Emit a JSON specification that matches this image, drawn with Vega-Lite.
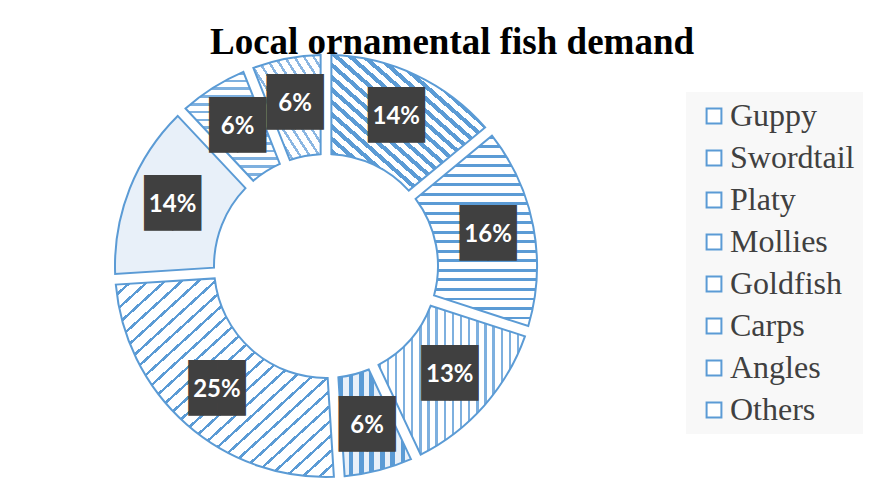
{
"$schema": "https://vega.github.io/schema/vega-lite/v6.json",
"width": 632,
"height": 448,
"autosize": {"type": "none"},
"padding": {"left": 10, "top": 42, "right": 244, "bottom": 0},
"background": "#ffffff",
"title": {"text": "Local ornamental fish demand", "font": "Liberation Serif", "fontSize": 37, "fontWeight": "bold", "color": "#000000", "anchor": "middle", "dx": 126, "dy": 36, "offset": -13, "baseline": "alphabetic"},
"data": {"values": [
{"fish": "Guppy", "share": 0.14},
{"fish": "Swordtail", "share": 0.16},
{"fish": "Platy", "share": 0.13},
{"fish": "Mollies", "share": 0.06},
{"fish": "Goldfish", "share": 0.25},
{"fish": "Carps", "share": 0.14},
{"fish": "Angles", "share": 0.06},
{"fish": "Others", "share": 0.06}
]},
"transform": [{"window": [{"op": "row_number", "as": "idx"}]}],
"encoding": {
"theta": {"field": "share", "type": "quantitative", "stack": true},
"order": {"field": "idx", "type": "quantitative", "sort": "ascending"}
},
"layer": [
{"mark": {"type": "arc", "innerRadius": 112, "outerRadius": 211, "padAngle": 0.045, "strokeWidth": 2},
"encoding": {
"stroke": {"field": "fish", "type": "nominal", "sort": null, "scale": {"range": ["#5B9BD5"]},
"legend": {"title": null, "orient": "none", "legendX": 676, "legendY": 50, "symbolType": "square", "symbolSize": 220, "symbolStrokeWidth": 2, "symbolFillColor": "#b7d2ee", "labelFont": "Liberation Serif", "labelFontSize": 32, "labelColor": "#404040", "rowPadding": 10, "fillColor": "#f8f8f8", "padding": 8, "symbolOffset": 4, "labelOffset": 0, "labelLimit": 300,
"encode": {"symbols": {"fill": {"value": "#b7d2ee"}, "fillOpacity": {"value": 1}, "opacity": {"value": 1}}}}},
"fill": {"condition": [
{"test": "datum.fish === 'Guppy'", "value": {"gradient": "linear", "x1": 0, "y1": 1, "x2": 1, "y2": 0, "stops": [
{"offset": 0, "color": "#5B9BD5"}, {"offset": 0.0205, "color": "#5B9BD5"}, {"offset": 0.0205, "color": "#ffffff"}, {"offset": 0.0455, "color": "#ffffff"},
{"offset": 0.0455, "color": "#5B9BD5"}, {"offset": 0.066, "color": "#5B9BD5"}, {"offset": 0.066, "color": "#ffffff"}, {"offset": 0.0909, "color": "#ffffff"},
{"offset": 0.0909, "color": "#5B9BD5"}, {"offset": 0.1114, "color": "#5B9BD5"}, {"offset": 0.1114, "color": "#ffffff"}, {"offset": 0.1364, "color": "#ffffff"},
{"offset": 0.1364, "color": "#5B9BD5"}, {"offset": 0.1569, "color": "#5B9BD5"}, {"offset": 0.1569, "color": "#ffffff"}, {"offset": 0.1818, "color": "#ffffff"},
{"offset": 0.1818, "color": "#5B9BD5"}, {"offset": 0.2023, "color": "#5B9BD5"}, {"offset": 0.2023, "color": "#ffffff"}, {"offset": 0.2273, "color": "#ffffff"},
{"offset": 0.2273, "color": "#5B9BD5"}, {"offset": 0.2478, "color": "#5B9BD5"}, {"offset": 0.2478, "color": "#ffffff"}, {"offset": 0.2727, "color": "#ffffff"},
{"offset": 0.2727, "color": "#5B9BD5"}, {"offset": 0.2932, "color": "#5B9BD5"}, {"offset": 0.2932, "color": "#ffffff"}, {"offset": 0.3182, "color": "#ffffff"},
{"offset": 0.3182, "color": "#5B9BD5"}, {"offset": 0.3387, "color": "#5B9BD5"}, {"offset": 0.3387, "color": "#ffffff"}, {"offset": 0.3636, "color": "#ffffff"},
{"offset": 0.3636, "color": "#5B9BD5"}, {"offset": 0.3841, "color": "#5B9BD5"}, {"offset": 0.3841, "color": "#ffffff"}, {"offset": 0.4091, "color": "#ffffff"},
{"offset": 0.4091, "color": "#5B9BD5"}, {"offset": 0.4296, "color": "#5B9BD5"}, {"offset": 0.4296, "color": "#ffffff"}, {"offset": 0.4545, "color": "#ffffff"},
{"offset": 0.4545, "color": "#5B9BD5"}, {"offset": 0.475, "color": "#5B9BD5"}, {"offset": 0.475, "color": "#ffffff"}, {"offset": 0.5, "color": "#ffffff"},
{"offset": 0.5, "color": "#5B9BD5"}, {"offset": 0.5205, "color": "#5B9BD5"}, {"offset": 0.5205, "color": "#ffffff"}, {"offset": 0.5455, "color": "#ffffff"},
{"offset": 0.5455, "color": "#5B9BD5"}, {"offset": 0.566, "color": "#5B9BD5"}, {"offset": 0.566, "color": "#ffffff"}, {"offset": 0.5909, "color": "#ffffff"},
{"offset": 0.5909, "color": "#5B9BD5"}, {"offset": 0.6114, "color": "#5B9BD5"}, {"offset": 0.6114, "color": "#ffffff"}, {"offset": 0.6364, "color": "#ffffff"},
{"offset": 0.6364, "color": "#5B9BD5"}, {"offset": 0.6569, "color": "#5B9BD5"}, {"offset": 0.6569, "color": "#ffffff"}, {"offset": 0.6818, "color": "#ffffff"},
{"offset": 0.6818, "color": "#5B9BD5"}, {"offset": 0.7023, "color": "#5B9BD5"}, {"offset": 0.7023, "color": "#ffffff"}, {"offset": 0.7273, "color": "#ffffff"},
{"offset": 0.7273, "color": "#5B9BD5"}, {"offset": 0.7478, "color": "#5B9BD5"}, {"offset": 0.7478, "color": "#ffffff"}, {"offset": 0.7727, "color": "#ffffff"},
{"offset": 0.7727, "color": "#5B9BD5"}, {"offset": 0.7932, "color": "#5B9BD5"}, {"offset": 0.7932, "color": "#ffffff"}, {"offset": 0.8182, "color": "#ffffff"},
{"offset": 0.8182, "color": "#5B9BD5"}, {"offset": 0.8387, "color": "#5B9BD5"}, {"offset": 0.8387, "color": "#ffffff"}, {"offset": 0.8636, "color": "#ffffff"},
{"offset": 0.8636, "color": "#5B9BD5"}, {"offset": 0.8841, "color": "#5B9BD5"}, {"offset": 0.8841, "color": "#ffffff"}, {"offset": 0.9091, "color": "#ffffff"},
{"offset": 0.9091, "color": "#5B9BD5"}, {"offset": 0.9296, "color": "#5B9BD5"}, {"offset": 0.9296, "color": "#ffffff"}, {"offset": 0.9545, "color": "#ffffff"},
{"offset": 0.9545, "color": "#5B9BD5"}, {"offset": 0.975, "color": "#5B9BD5"}, {"offset": 0.975, "color": "#ffffff"}, {"offset": 1, "color": "#ffffff"}
]}},
{"test": "datum.fish === 'Swordtail'", "value": {"gradient": "linear", "x1": 0, "y1": 0, "x2": 0, "y2": 1, "stops": [
{"offset": 0, "color": "#5B9BD5"}, {"offset": 0.015, "color": "#5B9BD5"}, {"offset": 0.015, "color": "#ffffff"}, {"offset": 0.05, "color": "#ffffff"},
{"offset": 0.05, "color": "#5B9BD5"}, {"offset": 0.065, "color": "#5B9BD5"}, {"offset": 0.065, "color": "#ffffff"}, {"offset": 0.1, "color": "#ffffff"},
{"offset": 0.1, "color": "#5B9BD5"}, {"offset": 0.115, "color": "#5B9BD5"}, {"offset": 0.115, "color": "#ffffff"}, {"offset": 0.15, "color": "#ffffff"},
{"offset": 0.15, "color": "#5B9BD5"}, {"offset": 0.165, "color": "#5B9BD5"}, {"offset": 0.165, "color": "#ffffff"}, {"offset": 0.2, "color": "#ffffff"},
{"offset": 0.2, "color": "#5B9BD5"}, {"offset": 0.215, "color": "#5B9BD5"}, {"offset": 0.215, "color": "#ffffff"}, {"offset": 0.25, "color": "#ffffff"},
{"offset": 0.25, "color": "#5B9BD5"}, {"offset": 0.265, "color": "#5B9BD5"}, {"offset": 0.265, "color": "#ffffff"}, {"offset": 0.3, "color": "#ffffff"},
{"offset": 0.3, "color": "#5B9BD5"}, {"offset": 0.315, "color": "#5B9BD5"}, {"offset": 0.315, "color": "#ffffff"}, {"offset": 0.35, "color": "#ffffff"},
{"offset": 0.35, "color": "#5B9BD5"}, {"offset": 0.365, "color": "#5B9BD5"}, {"offset": 0.365, "color": "#ffffff"}, {"offset": 0.4, "color": "#ffffff"},
{"offset": 0.4, "color": "#5B9BD5"}, {"offset": 0.415, "color": "#5B9BD5"}, {"offset": 0.415, "color": "#ffffff"}, {"offset": 0.45, "color": "#ffffff"},
{"offset": 0.45, "color": "#5B9BD5"}, {"offset": 0.465, "color": "#5B9BD5"}, {"offset": 0.465, "color": "#ffffff"}, {"offset": 0.5, "color": "#ffffff"},
{"offset": 0.5, "color": "#5B9BD5"}, {"offset": 0.515, "color": "#5B9BD5"}, {"offset": 0.515, "color": "#ffffff"}, {"offset": 0.55, "color": "#ffffff"},
{"offset": 0.55, "color": "#5B9BD5"}, {"offset": 0.565, "color": "#5B9BD5"}, {"offset": 0.565, "color": "#ffffff"}, {"offset": 0.6, "color": "#ffffff"},
{"offset": 0.6, "color": "#5B9BD5"}, {"offset": 0.615, "color": "#5B9BD5"}, {"offset": 0.615, "color": "#ffffff"}, {"offset": 0.65, "color": "#ffffff"},
{"offset": 0.65, "color": "#5B9BD5"}, {"offset": 0.665, "color": "#5B9BD5"}, {"offset": 0.665, "color": "#ffffff"}, {"offset": 0.7, "color": "#ffffff"},
{"offset": 0.7, "color": "#5B9BD5"}, {"offset": 0.715, "color": "#5B9BD5"}, {"offset": 0.715, "color": "#ffffff"}, {"offset": 0.75, "color": "#ffffff"},
{"offset": 0.75, "color": "#5B9BD5"}, {"offset": 0.765, "color": "#5B9BD5"}, {"offset": 0.765, "color": "#ffffff"}, {"offset": 0.8, "color": "#ffffff"},
{"offset": 0.8, "color": "#5B9BD5"}, {"offset": 0.815, "color": "#5B9BD5"}, {"offset": 0.815, "color": "#ffffff"}, {"offset": 0.85, "color": "#ffffff"},
{"offset": 0.85, "color": "#5B9BD5"}, {"offset": 0.865, "color": "#5B9BD5"}, {"offset": 0.865, "color": "#ffffff"}, {"offset": 0.9, "color": "#ffffff"},
{"offset": 0.9, "color": "#5B9BD5"}, {"offset": 0.915, "color": "#5B9BD5"}, {"offset": 0.915, "color": "#ffffff"}, {"offset": 0.95, "color": "#ffffff"},
{"offset": 0.95, "color": "#5B9BD5"}, {"offset": 0.965, "color": "#5B9BD5"}, {"offset": 0.965, "color": "#ffffff"}, {"offset": 1, "color": "#ffffff"}
]}},
{"test": "datum.fish === 'Platy'", "value": {"gradient": "linear", "x1": 0, "y1": 0, "x2": 1, "y2": 0, "stops": [
{"offset": 0, "color": "#7eb0df"}, {"offset": 0.0167, "color": "#7eb0df"}, {"offset": 0.0167, "color": "#ffffff"}, {"offset": 0.0556, "color": "#ffffff"},
{"offset": 0.0556, "color": "#7eb0df"}, {"offset": 0.0723, "color": "#7eb0df"}, {"offset": 0.0723, "color": "#ffffff"}, {"offset": 0.1111, "color": "#ffffff"},
{"offset": 0.1111, "color": "#7eb0df"}, {"offset": 0.1278, "color": "#7eb0df"}, {"offset": 0.1278, "color": "#ffffff"}, {"offset": 0.1667, "color": "#ffffff"},
{"offset": 0.1667, "color": "#7eb0df"}, {"offset": 0.1834, "color": "#7eb0df"}, {"offset": 0.1834, "color": "#ffffff"}, {"offset": 0.2222, "color": "#ffffff"},
{"offset": 0.2222, "color": "#7eb0df"}, {"offset": 0.2389, "color": "#7eb0df"}, {"offset": 0.2389, "color": "#ffffff"}, {"offset": 0.2778, "color": "#ffffff"},
{"offset": 0.2778, "color": "#7eb0df"}, {"offset": 0.2945, "color": "#7eb0df"}, {"offset": 0.2945, "color": "#ffffff"}, {"offset": 0.3333, "color": "#ffffff"},
{"offset": 0.3333, "color": "#7eb0df"}, {"offset": 0.35, "color": "#7eb0df"}, {"offset": 0.35, "color": "#ffffff"}, {"offset": 0.3889, "color": "#ffffff"},
{"offset": 0.3889, "color": "#7eb0df"}, {"offset": 0.4056, "color": "#7eb0df"}, {"offset": 0.4056, "color": "#ffffff"}, {"offset": 0.4444, "color": "#ffffff"},
{"offset": 0.4444, "color": "#7eb0df"}, {"offset": 0.4611, "color": "#7eb0df"}, {"offset": 0.4611, "color": "#ffffff"}, {"offset": 0.5, "color": "#ffffff"},
{"offset": 0.5, "color": "#7eb0df"}, {"offset": 0.5167, "color": "#7eb0df"}, {"offset": 0.5167, "color": "#ffffff"}, {"offset": 0.5556, "color": "#ffffff"},
{"offset": 0.5556, "color": "#7eb0df"}, {"offset": 0.5723, "color": "#7eb0df"}, {"offset": 0.5723, "color": "#ffffff"}, {"offset": 0.6111, "color": "#ffffff"},
{"offset": 0.6111, "color": "#7eb0df"}, {"offset": 0.6278, "color": "#7eb0df"}, {"offset": 0.6278, "color": "#ffffff"}, {"offset": 0.6667, "color": "#ffffff"},
{"offset": 0.6667, "color": "#7eb0df"}, {"offset": 0.6834, "color": "#7eb0df"}, {"offset": 0.6834, "color": "#ffffff"}, {"offset": 0.7222, "color": "#ffffff"},
{"offset": 0.7222, "color": "#7eb0df"}, {"offset": 0.7389, "color": "#7eb0df"}, {"offset": 0.7389, "color": "#ffffff"}, {"offset": 0.7778, "color": "#ffffff"},
{"offset": 0.7778, "color": "#7eb0df"}, {"offset": 0.7945, "color": "#7eb0df"}, {"offset": 0.7945, "color": "#ffffff"}, {"offset": 0.8333, "color": "#ffffff"},
{"offset": 0.8333, "color": "#7eb0df"}, {"offset": 0.85, "color": "#7eb0df"}, {"offset": 0.85, "color": "#ffffff"}, {"offset": 0.8889, "color": "#ffffff"},
{"offset": 0.8889, "color": "#7eb0df"}, {"offset": 0.9056, "color": "#7eb0df"}, {"offset": 0.9056, "color": "#ffffff"}, {"offset": 0.9444, "color": "#ffffff"},
{"offset": 0.9444, "color": "#7eb0df"}, {"offset": 0.9611, "color": "#7eb0df"}, {"offset": 0.9611, "color": "#ffffff"}, {"offset": 1, "color": "#ffffff"}
]}},
{"test": "datum.fish === 'Mollies'", "value": {"gradient": "linear", "x1": 0, "y1": 0, "x2": 1, "y2": 0, "stops": [
{"offset": 0, "color": "#5B9BD5"}, {"offset": 0.0643, "color": "#5B9BD5"}, {"offset": 0.0643, "color": "#e8f0f9"}, {"offset": 0.1429, "color": "#e8f0f9"},
{"offset": 0.1429, "color": "#5B9BD5"}, {"offset": 0.2072, "color": "#5B9BD5"}, {"offset": 0.2072, "color": "#e8f0f9"}, {"offset": 0.2857, "color": "#e8f0f9"},
{"offset": 0.2857, "color": "#5B9BD5"}, {"offset": 0.35, "color": "#5B9BD5"}, {"offset": 0.35, "color": "#e8f0f9"}, {"offset": 0.4286, "color": "#e8f0f9"},
{"offset": 0.4286, "color": "#5B9BD5"}, {"offset": 0.4929, "color": "#5B9BD5"}, {"offset": 0.4929, "color": "#e8f0f9"}, {"offset": 0.5714, "color": "#e8f0f9"},
{"offset": 0.5714, "color": "#5B9BD5"}, {"offset": 0.6357, "color": "#5B9BD5"}, {"offset": 0.6357, "color": "#e8f0f9"}, {"offset": 0.7143, "color": "#e8f0f9"},
{"offset": 0.7143, "color": "#5B9BD5"}, {"offset": 0.7786, "color": "#5B9BD5"}, {"offset": 0.7786, "color": "#e8f0f9"}, {"offset": 0.8571, "color": "#e8f0f9"},
{"offset": 0.8571, "color": "#5B9BD5"}, {"offset": 0.9214, "color": "#5B9BD5"}, {"offset": 0.9214, "color": "#e8f0f9"}, {"offset": 1, "color": "#e8f0f9"}
]}},
{"test": "datum.fish === 'Goldfish'", "value": {"gradient": "linear", "x1": 0, "y1": 0, "x2": 1, "y2": 1, "stops": [
{"offset": 0, "color": "#5B9BD5"}, {"offset": 0.0085, "color": "#5B9BD5"}, {"offset": 0.0085, "color": "#ffffff"}, {"offset": 0.0385, "color": "#ffffff"},
{"offset": 0.0385, "color": "#5B9BD5"}, {"offset": 0.047, "color": "#5B9BD5"}, {"offset": 0.047, "color": "#ffffff"}, {"offset": 0.0769, "color": "#ffffff"},
{"offset": 0.0769, "color": "#5B9BD5"}, {"offset": 0.0854, "color": "#5B9BD5"}, {"offset": 0.0854, "color": "#ffffff"}, {"offset": 0.1154, "color": "#ffffff"},
{"offset": 0.1154, "color": "#5B9BD5"}, {"offset": 0.1239, "color": "#5B9BD5"}, {"offset": 0.1239, "color": "#ffffff"}, {"offset": 0.1538, "color": "#ffffff"},
{"offset": 0.1538, "color": "#5B9BD5"}, {"offset": 0.1623, "color": "#5B9BD5"}, {"offset": 0.1623, "color": "#ffffff"}, {"offset": 0.1923, "color": "#ffffff"},
{"offset": 0.1923, "color": "#5B9BD5"}, {"offset": 0.2008, "color": "#5B9BD5"}, {"offset": 0.2008, "color": "#ffffff"}, {"offset": 0.2308, "color": "#ffffff"},
{"offset": 0.2308, "color": "#5B9BD5"}, {"offset": 0.2393, "color": "#5B9BD5"}, {"offset": 0.2393, "color": "#ffffff"}, {"offset": 0.2692, "color": "#ffffff"},
{"offset": 0.2692, "color": "#5B9BD5"}, {"offset": 0.2777, "color": "#5B9BD5"}, {"offset": 0.2777, "color": "#ffffff"}, {"offset": 0.3077, "color": "#ffffff"},
{"offset": 0.3077, "color": "#5B9BD5"}, {"offset": 0.3162, "color": "#5B9BD5"}, {"offset": 0.3162, "color": "#ffffff"}, {"offset": 0.3462, "color": "#ffffff"},
{"offset": 0.3462, "color": "#5B9BD5"}, {"offset": 0.3547, "color": "#5B9BD5"}, {"offset": 0.3547, "color": "#ffffff"}, {"offset": 0.3846, "color": "#ffffff"},
{"offset": 0.3846, "color": "#5B9BD5"}, {"offset": 0.3931, "color": "#5B9BD5"}, {"offset": 0.3931, "color": "#ffffff"}, {"offset": 0.4231, "color": "#ffffff"},
{"offset": 0.4231, "color": "#5B9BD5"}, {"offset": 0.4316, "color": "#5B9BD5"}, {"offset": 0.4316, "color": "#ffffff"}, {"offset": 0.4615, "color": "#ffffff"},
{"offset": 0.4615, "color": "#5B9BD5"}, {"offset": 0.47, "color": "#5B9BD5"}, {"offset": 0.47, "color": "#ffffff"}, {"offset": 0.5, "color": "#ffffff"},
{"offset": 0.5, "color": "#5B9BD5"}, {"offset": 0.5085, "color": "#5B9BD5"}, {"offset": 0.5085, "color": "#ffffff"}, {"offset": 0.5385, "color": "#ffffff"},
{"offset": 0.5385, "color": "#5B9BD5"}, {"offset": 0.547, "color": "#5B9BD5"}, {"offset": 0.547, "color": "#ffffff"}, {"offset": 0.5769, "color": "#ffffff"},
{"offset": 0.5769, "color": "#5B9BD5"}, {"offset": 0.5854, "color": "#5B9BD5"}, {"offset": 0.5854, "color": "#ffffff"}, {"offset": 0.6154, "color": "#ffffff"},
{"offset": 0.6154, "color": "#5B9BD5"}, {"offset": 0.6239, "color": "#5B9BD5"}, {"offset": 0.6239, "color": "#ffffff"}, {"offset": 0.6538, "color": "#ffffff"},
{"offset": 0.6538, "color": "#5B9BD5"}, {"offset": 0.6623, "color": "#5B9BD5"}, {"offset": 0.6623, "color": "#ffffff"}, {"offset": 0.6923, "color": "#ffffff"},
{"offset": 0.6923, "color": "#5B9BD5"}, {"offset": 0.7008, "color": "#5B9BD5"}, {"offset": 0.7008, "color": "#ffffff"}, {"offset": 0.7308, "color": "#ffffff"},
{"offset": 0.7308, "color": "#5B9BD5"}, {"offset": 0.7393, "color": "#5B9BD5"}, {"offset": 0.7393, "color": "#ffffff"}, {"offset": 0.7692, "color": "#ffffff"},
{"offset": 0.7692, "color": "#5B9BD5"}, {"offset": 0.7777, "color": "#5B9BD5"}, {"offset": 0.7777, "color": "#ffffff"}, {"offset": 0.8077, "color": "#ffffff"},
{"offset": 0.8077, "color": "#5B9BD5"}, {"offset": 0.8162, "color": "#5B9BD5"}, {"offset": 0.8162, "color": "#ffffff"}, {"offset": 0.8462, "color": "#ffffff"},
{"offset": 0.8462, "color": "#5B9BD5"}, {"offset": 0.8547, "color": "#5B9BD5"}, {"offset": 0.8547, "color": "#ffffff"}, {"offset": 0.8846, "color": "#ffffff"},
{"offset": 0.8846, "color": "#5B9BD5"}, {"offset": 0.8931, "color": "#5B9BD5"}, {"offset": 0.8931, "color": "#ffffff"}, {"offset": 0.9231, "color": "#ffffff"},
{"offset": 0.9231, "color": "#5B9BD5"}, {"offset": 0.9316, "color": "#5B9BD5"}, {"offset": 0.9316, "color": "#ffffff"}, {"offset": 0.9615, "color": "#ffffff"},
{"offset": 0.9615, "color": "#5B9BD5"}, {"offset": 0.97, "color": "#5B9BD5"}, {"offset": 0.97, "color": "#ffffff"}, {"offset": 1, "color": "#ffffff"}
]}},
{"test": "datum.fish === 'Carps'", "value": "#e8f0f9"},
{"test": "datum.fish === 'Angles'", "value": {"gradient": "linear", "x1": 0, "y1": 0, "x2": 0, "y2": 1, "stops": [
{"offset": 0, "color": "#7eb0df"}, {"offset": 0.025, "color": "#7eb0df"}, {"offset": 0.025, "color": "#ffffff"}, {"offset": 0.0714, "color": "#ffffff"},
{"offset": 0.0714, "color": "#7eb0df"}, {"offset": 0.0964, "color": "#7eb0df"}, {"offset": 0.0964, "color": "#ffffff"}, {"offset": 0.1429, "color": "#ffffff"},
{"offset": 0.1429, "color": "#7eb0df"}, {"offset": 0.1679, "color": "#7eb0df"}, {"offset": 0.1679, "color": "#ffffff"}, {"offset": 0.2143, "color": "#ffffff"},
{"offset": 0.2143, "color": "#7eb0df"}, {"offset": 0.2393, "color": "#7eb0df"}, {"offset": 0.2393, "color": "#ffffff"}, {"offset": 0.2857, "color": "#ffffff"},
{"offset": 0.2857, "color": "#7eb0df"}, {"offset": 0.3107, "color": "#7eb0df"}, {"offset": 0.3107, "color": "#ffffff"}, {"offset": 0.3571, "color": "#ffffff"},
{"offset": 0.3571, "color": "#7eb0df"}, {"offset": 0.3821, "color": "#7eb0df"}, {"offset": 0.3821, "color": "#ffffff"}, {"offset": 0.4286, "color": "#ffffff"},
{"offset": 0.4286, "color": "#7eb0df"}, {"offset": 0.4536, "color": "#7eb0df"}, {"offset": 0.4536, "color": "#ffffff"}, {"offset": 0.5, "color": "#ffffff"},
{"offset": 0.5, "color": "#7eb0df"}, {"offset": 0.525, "color": "#7eb0df"}, {"offset": 0.525, "color": "#ffffff"}, {"offset": 0.5714, "color": "#ffffff"},
{"offset": 0.5714, "color": "#7eb0df"}, {"offset": 0.5964, "color": "#7eb0df"}, {"offset": 0.5964, "color": "#ffffff"}, {"offset": 0.6429, "color": "#ffffff"},
{"offset": 0.6429, "color": "#7eb0df"}, {"offset": 0.6679, "color": "#7eb0df"}, {"offset": 0.6679, "color": "#ffffff"}, {"offset": 0.7143, "color": "#ffffff"},
{"offset": 0.7143, "color": "#7eb0df"}, {"offset": 0.7393, "color": "#7eb0df"}, {"offset": 0.7393, "color": "#ffffff"}, {"offset": 0.7857, "color": "#ffffff"},
{"offset": 0.7857, "color": "#7eb0df"}, {"offset": 0.8107, "color": "#7eb0df"}, {"offset": 0.8107, "color": "#ffffff"}, {"offset": 0.8571, "color": "#ffffff"},
{"offset": 0.8571, "color": "#7eb0df"}, {"offset": 0.8821, "color": "#7eb0df"}, {"offset": 0.8821, "color": "#ffffff"}, {"offset": 0.9286, "color": "#ffffff"},
{"offset": 0.9286, "color": "#7eb0df"}, {"offset": 0.9536, "color": "#7eb0df"}, {"offset": 0.9536, "color": "#ffffff"}, {"offset": 1, "color": "#ffffff"}
]}},
{"test": "datum.fish === 'Others'", "value": {"gradient": "linear", "x1": 0, "y1": 1, "x2": 1, "y2": 0, "stops": [
{"offset": 0, "color": "#8ab6e2"}, {"offset": 0.0214, "color": "#8ab6e2"}, {"offset": 0.0214, "color": "#ffffff"}, {"offset": 0.0714, "color": "#ffffff"},
{"offset": 0.0714, "color": "#8ab6e2"}, {"offset": 0.0928, "color": "#8ab6e2"}, {"offset": 0.0928, "color": "#ffffff"}, {"offset": 0.1429, "color": "#ffffff"},
{"offset": 0.1429, "color": "#8ab6e2"}, {"offset": 0.1643, "color": "#8ab6e2"}, {"offset": 0.1643, "color": "#ffffff"}, {"offset": 0.2143, "color": "#ffffff"},
{"offset": 0.2143, "color": "#8ab6e2"}, {"offset": 0.2357, "color": "#8ab6e2"}, {"offset": 0.2357, "color": "#ffffff"}, {"offset": 0.2857, "color": "#ffffff"},
{"offset": 0.2857, "color": "#8ab6e2"}, {"offset": 0.3071, "color": "#8ab6e2"}, {"offset": 0.3071, "color": "#ffffff"}, {"offset": 0.3571, "color": "#ffffff"},
{"offset": 0.3571, "color": "#8ab6e2"}, {"offset": 0.3785, "color": "#8ab6e2"}, {"offset": 0.3785, "color": "#ffffff"}, {"offset": 0.4286, "color": "#ffffff"},
{"offset": 0.4286, "color": "#8ab6e2"}, {"offset": 0.45, "color": "#8ab6e2"}, {"offset": 0.45, "color": "#ffffff"}, {"offset": 0.5, "color": "#ffffff"},
{"offset": 0.5, "color": "#8ab6e2"}, {"offset": 0.5214, "color": "#8ab6e2"}, {"offset": 0.5214, "color": "#ffffff"}, {"offset": 0.5714, "color": "#ffffff"},
{"offset": 0.5714, "color": "#8ab6e2"}, {"offset": 0.5928, "color": "#8ab6e2"}, {"offset": 0.5928, "color": "#ffffff"}, {"offset": 0.6429, "color": "#ffffff"},
{"offset": 0.6429, "color": "#8ab6e2"}, {"offset": 0.6643, "color": "#8ab6e2"}, {"offset": 0.6643, "color": "#ffffff"}, {"offset": 0.7143, "color": "#ffffff"},
{"offset": 0.7143, "color": "#8ab6e2"}, {"offset": 0.7357, "color": "#8ab6e2"}, {"offset": 0.7357, "color": "#ffffff"}, {"offset": 0.7857, "color": "#ffffff"},
{"offset": 0.7857, "color": "#8ab6e2"}, {"offset": 0.8071, "color": "#8ab6e2"}, {"offset": 0.8071, "color": "#ffffff"}, {"offset": 0.8571, "color": "#ffffff"},
{"offset": 0.8571, "color": "#8ab6e2"}, {"offset": 0.8785, "color": "#8ab6e2"}, {"offset": 0.8785, "color": "#ffffff"}, {"offset": 0.9286, "color": "#ffffff"},
{"offset": 0.9286, "color": "#8ab6e2"}, {"offset": 0.95, "color": "#8ab6e2"}, {"offset": 0.95, "color": "#ffffff"}, {"offset": 1, "color": "#ffffff"}
]}}
], "value": "#ffffff"}
}},
{"mark": {"type": "text", "radius": 165, "text": "██", "font": "DejaVu Sans Mono", "fontSize": 47, "fill": "#404040", "baseline": "middle", "align": "center"}},
{"mark": {"type": "text", "radius": 165, "font": "Lato", "fontWeight": "bold", "fontSize": 24, "fill": "#ffffff", "baseline": "middle", "align": "center"},
"encoding": {"text": {"field": "share", "type": "quantitative", "format": ".0%"}}}
],
"config": {"view": {"stroke": null}}
}
